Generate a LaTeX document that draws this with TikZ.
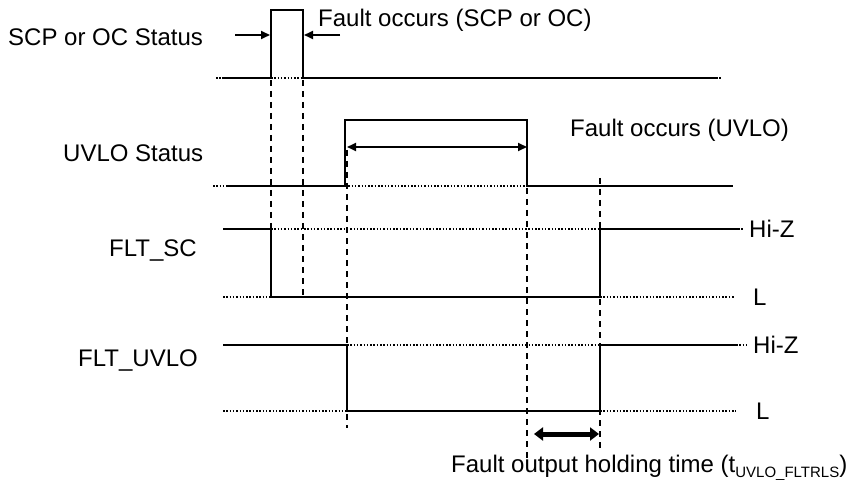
\documentclass[tikz,border=0pt]{standalone}
\usepackage{fontspec}
\setmainfont{Liberation Sans}
\usetikzlibrary{arrows.meta}
\begin{document}
\begin{tikzpicture}[x=1pt,y=-1pt,
  sig/.style={line width=2.8pt,line cap=butt,line join=miter},
  dotl/.style={line width=1.5pt,dash pattern=on 1.5pt off 1.8pt},
  dsh/.style={line width=1.6pt,dash pattern=on 6pt off 5pt},
  lbl/.style={inner sep=0pt,font=\fontsize{24}{27}\selectfont},
  arr/.style={line width=2pt,-{Triangle[length=9pt,width=8pt]}},
  darr/.style={line width=2pt,{Triangle[length=9pt,width=8pt]}-{Triangle[length=9pt,width=8pt]}},
  tarr/.style={line width=5pt,{Triangle[length=9pt,width=13pt]}-{Triangle[length=9pt,width=13pt]}}]
\useasboundingbox (0,0) rectangle (850,486);
% labels
\node[lbl,anchor=west] (l1) at (8,37) {SCP or OC Status};
\node[lbl,anchor=west] (l2) at (63,153) {UVLO Status};
\node[lbl,anchor=east] (l3) at (197,251) {FLT\_SC};
\node[lbl,anchor=east] (l4) at (198,361) {FLT\_UVLO};
\node[lbl,anchor=west] (f1) at (318,20) {Fault occurs (SCP or OC)};
\node[lbl,anchor=west] (f2) at (570,130) {Fault occurs (UVLO)};
\node[lbl,anchor=west] (h1) at (749,229) {Hi-Z};
\node[lbl,anchor=west] (lo1) at (753,297) {L};
\node[lbl,anchor=west] (h2) at (753,345) {Hi-Z};
\node[lbl,anchor=west] (lo2) at (756,411) {L};
\node[lbl,anchor=west] (f3) at (451,468) {Fault output holding time (t\raisebox{-0.35ex}{\fontsize{15}{15}\selectfont UVLO\_FLTRLS})};
% key time coordinates
\coordinate (a1) at (271,10); \coordinate (a2) at (303,10);
\coordinate (u1) at (345,120); \coordinate (u2) at (527,120);
% dashed guides
\draw[dsh] (271,80) -- (271,297);
\draw[dsh] (303,80) -- (303,297);
\draw[dsh] (347,150) -- (347,428);
\draw[dsh] (527,188) -- (527,458);
\draw[dsh] (600,178) -- (600,452);
% SCP or OC status
\draw[dotl] (216,78) -- (222,78);
\draw[sig] (222,78) -- (271,78) -- (a1) -- (a2) -- (303,78) -- (716,78);
\draw[dotl] (271,78) -- (303,78);
\draw[dotl] (716,78) -- (722,78);
\coordinate (sa) at (235,35); \coordinate (sb) at (340,35);
\draw[arr] (sa) -- (270,35);
\draw[arr] (sb) -- (304,35);
% UVLO status
\draw[dotl] (213,186) -- (228,186);
\draw[sig] (228,186) -- (345,186) -- (u1) -- (u2) -- (527,186) -- (733,186);
\draw[dotl] (345,186) -- (527,186);
\draw[darr] (347,147) -- (527,147);
% FLT_SC
\draw[sig] (223,229) -- (271,229) -- (271,297) -- (600,297) -- (600,229) -- (738,229);
\draw[dotl] (271,229) -- (600,229);
\draw[dotl] (738,229) -- (743,229);
\draw[dotl] (223,297) -- (271,297);
\draw[dotl] (600,297) -- (735,297);
% FLT_UVLO
\draw[sig] (223,345) -- (347,345) -- (347,411) -- (600,411) -- (600,345) -- (736,345);
\draw[dotl] (347,345) -- (600,345);
\draw[dotl] (736,345) -- (746,345);
\draw[dotl] (223,411) -- (347,411);
\draw[dotl] (600,411) -- (736,411);
% holding time arrow
\draw[tarr] (534,434) -- (599,434);
\end{tikzpicture}
\end{document}
